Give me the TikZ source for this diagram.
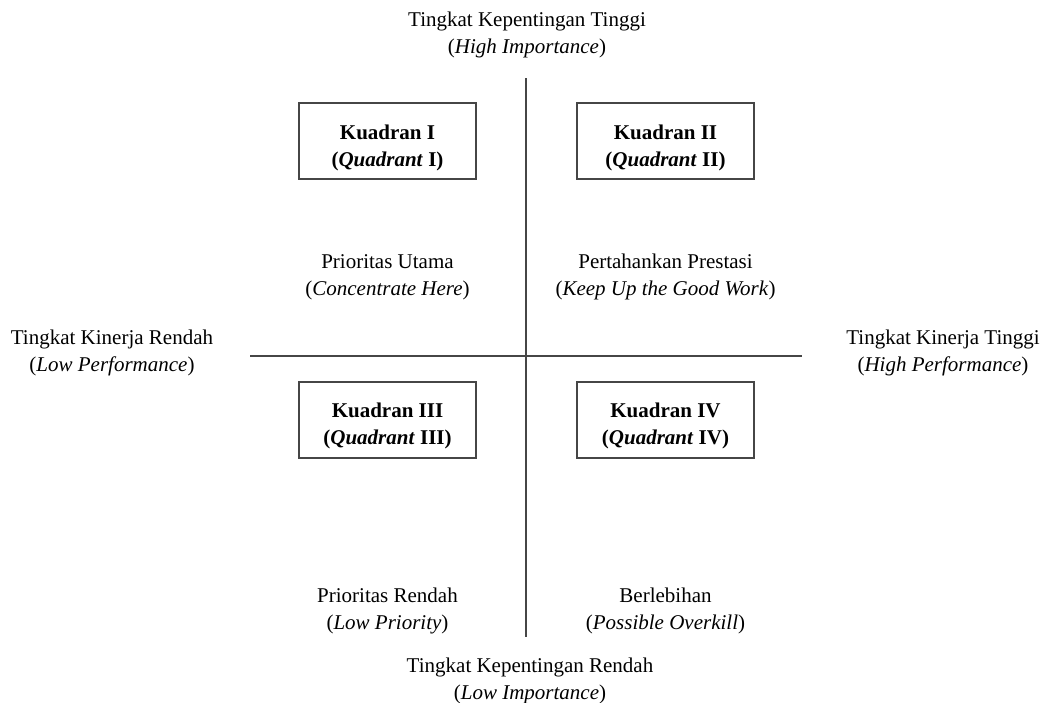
\documentclass[tikz,border=0pt]{standalone}
\usepackage{fontspec}
\setmainfont{Liberation Serif}
\usepackage{tikz}
\definecolor{axis_grey}{RGB}{70, 70, 70}
\tikzstyle{qbox}=[rectangle,draw=axis_grey,line width=1pt,align=center,
  minimum width=88.5pt,minimum height=38pt,inner sep=2pt,
  font=\fontsize{10.5}{13.5}\selectfont\bfseries]
\tikzstyle{lbl}=[align=center,inner sep=0pt,font=\fontsize{10.5}{13.5}\selectfont]
\tikzstyle{axis}=[draw=axis_grey,line width=1pt]
\tikzstyle{none}=[]
\newcommand{\boxstrut}{\rule{0pt}{14pt}}

\begin{document}
\begin{tikzpicture}[x=0.5pt,y=-0.5pt]
            \useasboundingbox (0,0) rectangle (1043,702);
            \node [style=none] (0) at (526, 78) {};
            \node [style=none] (1) at (526, 637) {};
            \node [style=none] (2) at (250, 356) {};
            \node [style=none] (3) at (802, 356) {};
            \draw [style=axis] (0.center) to (1.center);
            \draw [style=axis] (2.center) to (3.center);
            \node [style=qbox] (4) at (387.5, 141) {\boxstrut Kuadran I\\(\textit{Quadrant} I)};
            \node [style=qbox] (5) at (665.5, 141) {\boxstrut Kuadran II\\(\textit{Quadrant} II)};
            \node [style=qbox] (6) at (387.5, 419.5) {\boxstrut Kuadran III\\(\textit{Quadrant} III)};
            \node [style=qbox] (7) at (665.5, 419.5) {\boxstrut Kuadran IV\\(\textit{Quadrant} IV)};
            \node [style=lbl] (8) at (527, 35) {Tingkat Kepentingan Tinggi\\(\textit{High Importance})};
            \node [style=lbl] (9) at (530, 681) {Tingkat Kepentingan Rendah\\(\textit{Low Importance})};
            \node [style=lbl] (10) at (112, 353) {Tingkat Kinerja Rendah\\(\textit{Low Performance})};
            \node [style=lbl] (11) at (943, 353) {Tingkat Kinerja Tinggi\\(\textit{High Performance})};
            \node [style=lbl] (12) at (387.5, 277) {Prioritas Utama\\(\textit{Concentrate Here})};
            \node [style=lbl] (13) at (665.5, 277) {Pertahankan Prestasi\\(\textit{Keep Up the Good Work})};
            \node [style=lbl] (14) at (387.5, 611) {Prioritas Rendah\\(\textit{Low Priority})};
            \node [style=lbl] (15) at (665.5, 611) {Berlebihan\\(\textit{Possible Overkill})};
    \end{tikzpicture}
\end{document}
